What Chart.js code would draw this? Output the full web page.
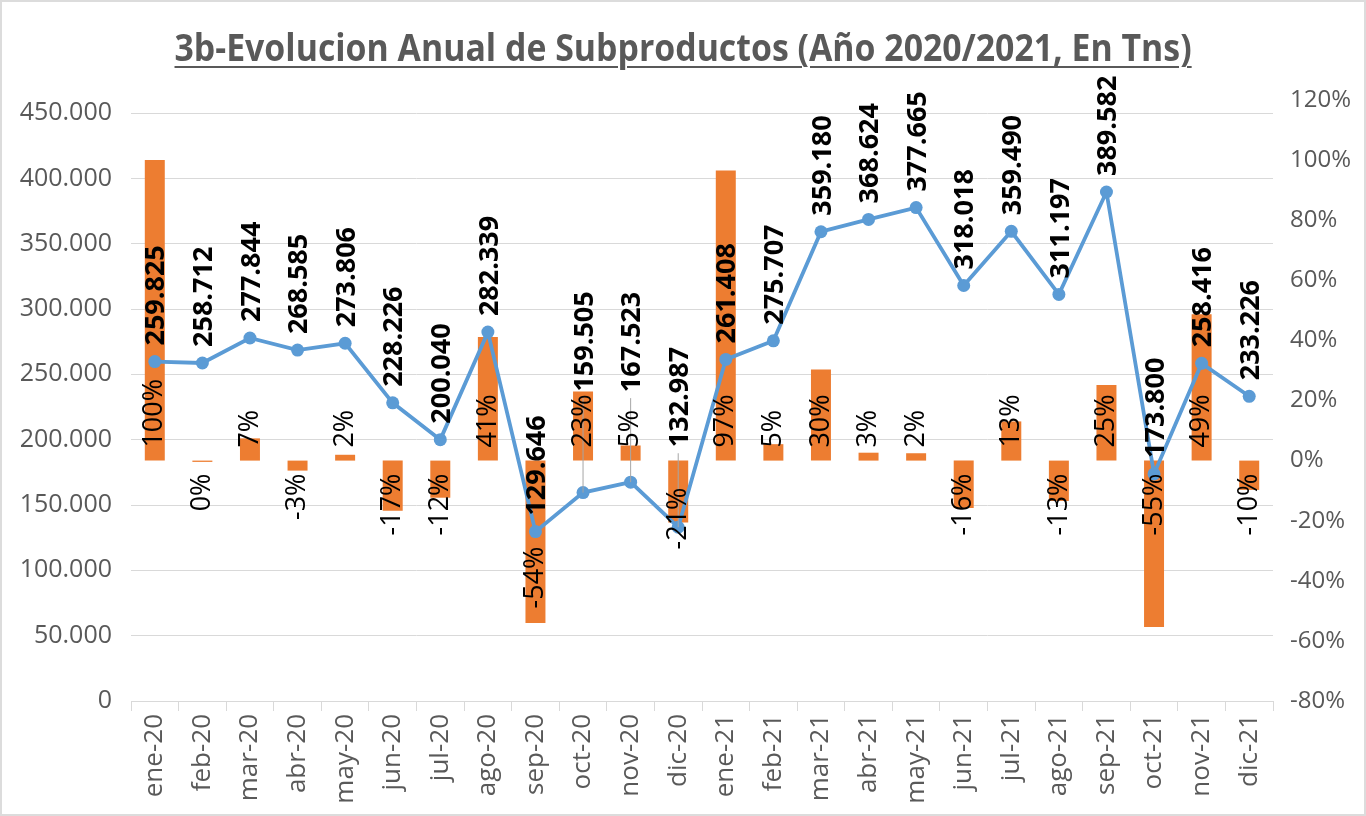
<!DOCTYPE html>
<html>
<head>
<meta charset="utf-8">
<title>3b-Evolucion Anual de Subproductos</title>
<script src="https://cdn.jsdelivr.net/npm/chart.js@4.4.1/dist/chart.umd.min.js"></script>
<style>
    html, body { margin: 0; padding: 0; background: #fff; }
    #wrap { position: relative; width: 1366px; height: 816px; overflow: hidden; }
    #grafico { position: absolute; left: 0; top: 0; }
    #titulo {
        position: absolute; left: 0; top: 27px; width: 1366px; text-align: center;
        font-family: "Open Sans", sans-serif; font-weight: bold; font-size: 38px;
        line-height: 1; color: #595959;
    }
    #titulo span {
        display: inline-block; text-decoration: underline;
        text-decoration-thickness: 2px; text-underline-offset: 5px;
        transform-origin: center; white-space: nowrap;
    }
    #marco {
        position: absolute; left: 0; top: 0; width: 1362px; height: 812px;
        border: 2px solid #dcdcdc; pointer-events: none;
    }
</style>
</head>
<body>
<div id="wrap">
    <canvas id="grafico" width="1366" height="816"></canvas>
    <div id="titulo"><span>3b-Evolucion Anual de Subproductos (Año 2020/2021, En Tns)</span></div>
    <div id="marco"></div>
</div>
<script>
// meses
const meses = ["ene-20", "feb-20", "mar-20", "abr-20", "may-20", "jun-20", "jul-20", "ago-20",
    "sep-20", "oct-20", "nov-20", "dic-20", "ene-21", "feb-21", "mar-21", "abr-21",
    "may-21", "jun-21", "jul-21", "ago-21", "sep-21", "oct-21", "nov-21", "dic-21"];

// toneladas por mes (eje izquierdo)
const toneladas = [259825, 258712, 277844, 268585, 273806, 228226, 200040, 282339,
    129646, 159505, 167523, 132987, 261408, 275707, 359180, 368624,
    377665, 318018, 359490, 311197, 389582, 173800, 258416, 233226];

// variacion mensual en % (eje derecho)
const variacion = [100, -0.43, 7.40, -3.33, 1.94, -16.65, -12.35, 41.14,
    -54.08, 23.03, 5.03, -20.62, 96.57, 5.47, 30.28, 2.63,
    2.45, -15.79, 13.04, -13.43, 25.19, -55.39, 48.69, -9.75];

const ticksIzq = [0, 50000, 100000, 150000, 200000, 250000, 300000, 350000, 400000, 450000];
const ticksDer = [-80, -60, -40, -20, 0, 20, 40, 60, 80, 100, 120];

const GRIS = "#595959";
const FUENTE = "'Open Sans', sans-serif";

function miles(v) {
    return String(Math.round(v)).replace(/\B(?=(\d{3})+(?!\d))/g, ".");
}

// ajustar ancho del titulo
const tit = document.querySelector("#titulo span");
tit.style.transform = "scaleX(" + (1017 / tit.offsetWidth) + ")";

// etiquetas movidas a mano en el original (desplazamiento en px)
const movidasValor = { 9: -85, 10: -74, 11: -64 };
const movidasPct = { 8: 73, 11: 14 };

const etiquetas = {
    id: "etiquetas",
    afterDatasetsDraw(chart) {
        const ctx = chart.ctx;
        const y1 = chart.scales.y1;
        const base = y1.getPixelForValue(0);
        const linea = chart.getDatasetMeta(0);
        const barras = chart.getDatasetMeta(1);

        ctx.save();
        // lineas guia de las etiquetas movidas
        ctx.strokeStyle = "#a6a6a6";
        ctx.lineWidth = 1;
        Object.keys(movidasValor).forEach(k => {
            const p = linea.data[k];
            ctx.beginPath();
            ctx.moveTo(p.x, p.y);
            ctx.lineTo(p.x, p.y - 16 + movidasValor[k] + 6);
            ctx.stroke();
        });

        // porcentajes sobre las barras
        ctx.fillStyle = "#000";
        ctx.font = "27px " + FUENTE;
        ctx.textBaseline = "middle";
        barras.data.forEach((b, i) => {
            const v = variacion[i];
            const txt = (Math.round(v) + "%").replace("-0%", "0%");
            const dy = movidasPct[i] || 0;
            ctx.save();
            if (v >= 0) {
                ctx.translate(b.x, base - 13 + dy);
                ctx.rotate(-Math.PI / 2);
                ctx.textAlign = "left";
            } else {
                ctx.translate(b.x, base + 13 + dy);
                ctx.rotate(-Math.PI / 2);
                ctx.textAlign = "right";
            }
            ctx.fillText(txt, 0, 0);
            ctx.restore();
        });

        // toneladas sobre la linea
        ctx.font = "bold 27px " + FUENTE;
        linea.data.forEach((p, i) => {
            const dy = movidasValor[i] || 0;
            ctx.save();
            ctx.translate(p.x + 2, p.y - 16 + dy);
            ctx.rotate(-Math.PI / 2);
            ctx.textAlign = "left";
            ctx.fillText(miles(toneladas[i]), 0, 0);
            ctx.restore();
        });
        ctx.restore();
    }
};

new Chart(document.getElementById("grafico"), {
    data: {
        labels: meses,
        datasets: [{
            type: "line",
            label: "Toneladas",
            data: toneladas,
            yAxisID: "y",
            borderColor: "#5B9BD5",
            backgroundColor: "#5B9BD5",
            borderWidth: 3.8,
            pointRadius: 6.5,
            pointBackgroundColor: "#5B9BD5",
            pointBorderWidth: 0,
            tension: 0,
            order: 0
        }, {
            type: "bar",
            label: "Variacion",
            data: variacion,
            yAxisID: "y1",
            backgroundColor: "#ED7D31",
            barPercentage: 1,
            categoryPercentage: 0.42,
            order: 1
        }]
    },
    options: {
        responsive: false,
        animation: false,
        devicePixelRatio: 1,
        layout: { padding: { top: 100, left: 0, right: 0, bottom: 0 } },
        plugins: {
            legend: { display: false },
            title: { display: false },
            tooltip: { enabled: false }
        },
        scales: {
            x: {
                type: "category",
                offset: true,
                grid: { drawOnChartArea: false, drawTicks: true, tickLength: 10, color: "#d9d9d9", offset: true },
                border: { color: "#d9d9d9", width: 1 },
                ticks: {
                    minRotation: 90, maxRotation: 90, autoSkip: false,
                    color: GRIS, font: { family: FUENTE, size: 26 }, padding: 3
                },
                afterFit(scale) {
                    scale.height = 115;
                    scale.paddingLeft = 0;
                    scale.paddingRight = 0;
                }
            },
            y: {
                position: "left",
                min: 0,
                max: 460000,
                grid: { color: "#d9d9d9", drawTicks: false },
                border: { display: false },
                afterBuildTicks(scale) {
                    scale.ticks = ticksIzq.map(v => ({ value: v }));
                },
                ticks: {
                    color: GRIS, font: { family: FUENTE, size: 25 }, padding: 19,
                    callback: v => miles(v)
                },
                afterFit(scale) {
                    scale.width = 131;
                    scale.paddingTop = 0;
                    scale.paddingBottom = 0;
                }
            },
            y1: {
                position: "right",
                min: -80,
                max: 120,
                grid: { display: false, drawTicks: false },
                border: { display: false },
                afterBuildTicks(scale) {
                    scale.ticks = ticksDer.map(v => ({ value: v }));
                },
                ticks: {
                    color: GRIS, font: { family: FUENTE, size: 24 }, padding: 17,
                    callback: v => v + "%"
                },
                afterFit(scale) {
                    scale.width = 93;
                    scale.paddingTop = 0;
                    scale.paddingBottom = 0;
                }
            }
        }
    },
    plugins: [etiquetas]
});
</script>
</body>
</html>
